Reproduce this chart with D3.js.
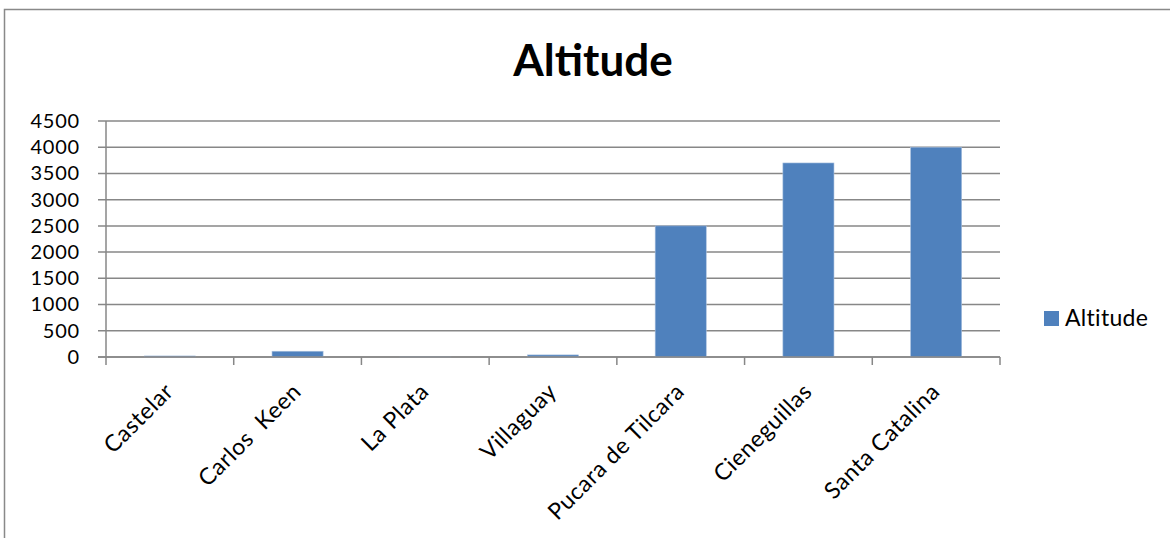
<!DOCTYPE html>
<html>
<head>
<meta charset="utf-8">
<script src="https://cdn.jsdelivr.net/npm/d3@7/dist/d3.min.js"></script>
<style>
  html, body { margin: 0; padding: 0; background: #fff; }
  svg { display: block; }
</style>
</head>
<body>
<svg id="chart" width="1170" height="538"></svg>
<script>
const categories = ["Castelar", "Carlos  Keen", "La Plata", "Villaguay", "Pucara de Tilcara", "Cieneguillas", "Santa Catalina"];
const altitude = [20, 110, 3, 40, 2500, 3700, 4000];
const yTicks = [0, 500, 1000, 1500, 2000, 2500, 3000, 3500, 4000, 4500];
const seriesName = "Altitude";
const chartTitle = "Altitude";

(function () {
const svg = d3.select("#chart");
const W = 1170, H = 538;
const pLeft = 106, pRight = 1000, pTop = 121, pBottom = 357;
const gridColor = "#878787";
const barColor = "#4f81bd";
const font = "Lato, 'Open Sans', sans-serif";

// outer frame
svg.append("rect")
  .attr("x", 4.5).attr("y", 9.5)
  .attr("width", W + 10).attr("height", H + 10)
  .attr("fill", "none").attr("stroke", "#898989").attr("stroke-width", 1.5);

const x = d3.scaleBand().domain(categories).range([pLeft, pRight]).paddingInner(0.6).paddingOuter(0.3);
const y = d3.scaleLinear().domain([0, 4500]).range([pBottom, pTop]);

// gridlines
svg.append("g").selectAll("line").data(yTicks).join("line")
  .attr("x1", pLeft - 8).attr("x2", pRight)
  .attr("y1", d => y(d)).attr("y2", d => y(d))
  .attr("stroke", gridColor).attr("stroke-width", 1.5);

// y tick labels via axis
const gy = svg.append("g").attr("transform", `translate(${pLeft - 8},0)`);
gy.call(d3.axisLeft(y).tickValues(yTicks).tickSize(0).tickPadding(18).tickFormat(d3.format("d")));
gy.select(".domain").remove();
gy.selectAll(".tick line").remove();
gy.selectAll(".tick text")
  .attr("x", -18)
  .attr("font-family", font).attr("font-size", 20).attr("fill", "#000")
  .attr("letter-spacing", 0.8);

// y axis line
svg.append("line").attr("x1", pLeft).attr("x2", pLeft).attr("y1", pTop).attr("y2", pBottom)
  .attr("stroke", gridColor).attr("stroke-width", 1.5);

// bars
svg.append("g").selectAll("rect").data(categories).join("rect")
  .attr("x", d => x(d))
  .attr("width", x.bandwidth())
  .attr("y", (d, i) => y(altitude[i]))
  .attr("height", (d, i) => y(0) - y(altitude[i]))
  .attr("fill", barColor)
  .attr("stroke", "#a9c0de").attr("stroke-width", 0.6);

// x axis
svg.append("line").attr("x1", pLeft - 8).attr("x2", pRight).attr("y1", pBottom).attr("y2", pBottom)
  .attr("stroke", gridColor).attr("stroke-width", 1.5);
const step = x.step();
const boundaries = d3.range(categories.length + 1).map(i => pLeft + i * step);
svg.append("g").selectAll("line").data(boundaries).join("line")
  .attr("x1", d => d).attr("x2", d => d).attr("y1", pBottom).attr("y2", pBottom + 8)
  .attr("stroke", gridColor).attr("stroke-width", 1.5);

// category labels
svg.append("g").selectAll("text").data(categories).join("text")
  .attr("transform", d => `translate(${x(d) + x.bandwidth() / 2 + 5},${393}) rotate(-45)`)
  .attr("text-anchor", "end")
  .attr("font-family", font).attr("font-size", 23).attr("fill", "#000")
  .attr("letter-spacing", 0.6)
  .style("white-space", "pre")
  .text(d => d);

// title
svg.append("text")
  .attr("x", 593).attr("y", 76)
  .attr("text-anchor", "middle")
  .attr("font-family", font).attr("font-weight", "bold").attr("font-size", 44).attr("fill", "#000")
  .text(chartTitle);

// legend
svg.append("rect").attr("x", 1044).attr("y", 311).attr("width", 15).attr("height", 15).attr("fill", barColor);
svg.append("text").attr("x", 1065).attr("y", 326)
  .attr("font-family", font).attr("font-size", 23).attr("fill", "#000")
  .attr("letter-spacing", 0.3)
  .text(seriesName);
})();
</script>
</body>
</html>
